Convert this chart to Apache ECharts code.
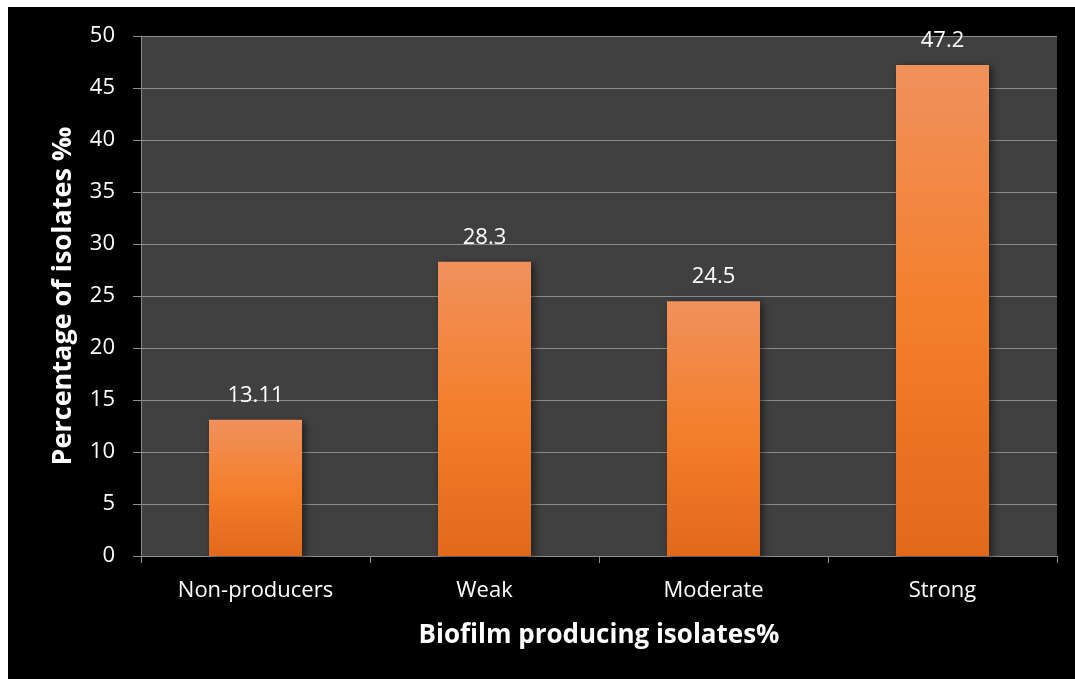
<!DOCTYPE html>
<html>
<head>
<meta charset="utf-8">
<style>
html,body{margin:0;padding:0;background:#fff;}
#chart{width:1075px;height:679px;}
</style>
<script src="https://cdn.jsdelivr.net/npm/echarts@6/dist/echarts.min.js"></script>
</head>
<body>
<div id="chart"></div>
<script>
const categories = ['Non-producers', 'Weak', 'Moderate', 'Strong'];
const values = [13.11, 28.3, 24.5, 47.2];
const valueLabels = ['13.11', '28.3', '24.5', '47.2'];
const xTitle = 'Biofilm producing isolates%';
const yTitle = 'Percentage of isolates ‰';

const FONT = '"Open Sans", "Noto Sans", sans-serif';
const chart = echarts.init(document.getElementById('chart'));
chart.setOption({
  backgroundColor: '#ffffff',
  animation: false,
  graphic: [{
    type: 'rect', z: -10, silent: true,
    shape: { x: 8, y: 7, width: 1067, height: 672 },
    style: { fill: '#000000' }
  }],
  grid: {
    left: 141, top: 36, right: 18, bottom: 123,
    show: true, backgroundColor: '#404040', borderWidth: 0
  },
  xAxis: {
    type: 'category',
    data: categories,
    axisLine: { show: true, lineStyle: { color: '#8c8c8c', width: 1 } },
    axisTick: { show: true, length: 7, alignWithLabel: false, lineStyle: { color: '#8c8c8c' } },
    axisLabel: { color: '#ffffff', fontSize: 22, fontFamily: FONT, margin: 24 },
    name: xTitle,
    nameLocation: 'middle',
    nameGap: 67,
    nameTextStyle: { color: '#ffffff', fontSize: 26, fontWeight: 'bold', fontFamily: FONT }
  },
  yAxis: {
    type: 'value',
    min: 0, max: 50, interval: 5,
    axisLine: { show: true, lineStyle: { color: '#8c8c8c', width: 1 } },
    axisTick: { show: true, length: 8, lineStyle: { color: '#8c8c8c' } },
    splitLine: { show: true, lineStyle: { color: '#8c8c8c', width: 1 } },
    axisLabel: { color: '#ffffff', fontSize: 22, fontFamily: FONT, margin: 26 },
    name: yTitle,
    nameLocation: 'middle',
    nameGap: 64,
    nameRotate: 90,
    nameTextStyle: { color: '#ffffff', fontSize: 27, fontWeight: 'bold', fontFamily: FONT }
  },
  series: [{
    type: 'bar',
    data: values,
    barWidth: 93,
    itemStyle: {
      color: new echarts.graphic.LinearGradient(0, 0, 0, 1, [
        { offset: 0, color: '#f0915c' },
        { offset: 0.5, color: '#f47f2c' },
        { offset: 1, color: '#e2691b' }
      ]),
      shadowColor: 'rgba(0,0,0,0.55)',
      shadowBlur: 8,
      shadowOffsetX: 3,
      shadowOffsetY: 2
    },
    label: {
      show: true,
      position: 'top',
      distance: 13,
      color: '#ffffff',
      fontSize: 22,
      fontFamily: FONT,
      formatter: p => valueLabels[p.dataIndex]
    }
  }]
});
</script>
</body>
</html>
